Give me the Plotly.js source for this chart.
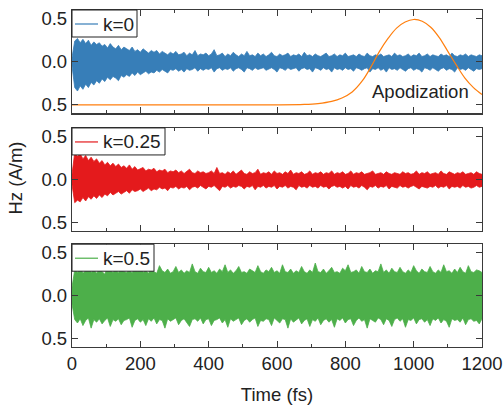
<!DOCTYPE html>
<html>
<head>
<meta charset="utf-8">
<script src="https://cdn.plot.ly/plotly-3.0.1.min.js"></script>
<style>html,body{margin:0;padding:0;background:#fff;}#chart{width:504px;height:407px;}</style>
</head>
<body>
<div id="chart"></div>
<script>
// Sampling grid of the field traces (fs)
const t0 = 0;
const dt = 8;

// Upper / lower edges of the oscillating Hz field
// k = 0 (blue)
const upperK0 = [
  0.05, 0.24, 0.27, 0.22, 0.26, 0.21, 0.25, 0.19, 0.23, 0.20,
  0.22, 0.18, 0.20, 0.16, 0.21, 0.17, 0.15, 0.19, 0.14, 0.17,
  0.15, 0.13, 0.17, 0.12, 0.14, 0.11, 0.15, 0.12, 0.10, 0.13,
  0.11, 0.13, 0.09, 0.12, 0.10, 0.08, 0.11, 0.09, 0.12, 0.08,
  0.09, 0.11, 0.07, 0.10, 0.08, 0.13, 0.07, 0.09, 0.08, 0.10,
  0.07, 0.09, 0.14, 0.07, 0.08, 0.10, 0.06, 0.09, 0.07, 0.11,
  0.08, 0.06, 0.09, 0.07, 0.12, 0.07, 0.08, 0.06, 0.10, 0.07,
  0.09, 0.06, 0.08, 0.11, 0.07, 0.06, 0.09, 0.07, 0.08, 0.10,
  0.06, 0.08, 0.07, 0.09, 0.06, 0.11, 0.07, 0.08, 0.06, 0.09,
  0.07, 0.06, 0.08, 0.10, 0.06, 0.07, 0.09, 0.06, 0.08, 0.07,
  0.10, 0.06, 0.07, 0.08, 0.06, 0.09, 0.07, 0.06, 0.10, 0.07,
  0.06, 0.08, 0.07, 0.09, 0.06, 0.07, 0.08, 0.06, 0.10, 0.07,
  0.08, 0.06, 0.07, 0.09, 0.06, 0.08, 0.07, 0.10, 0.06, 0.07,
  0.09, 0.06, 0.08, 0.07, 0.06, 0.09, 0.07, 0.08, 0.06, 0.10,
  0.07, 0.06, 0.08, 0.07, 0.09, 0.06, 0.08, 0.07, 0.06, 0.08, 0.07
];
const lowerK0 = [
  -0.05, -0.30, -0.34, -0.28, -0.32, -0.26, -0.30, -0.24, -0.27, -0.22,
  -0.25, -0.20, -0.23, -0.18, -0.21, -0.17, -0.19, -0.22, -0.16, -0.18,
  -0.15, -0.17, -0.13, -0.16, -0.12, -0.15, -0.13, -0.11, -0.14, -0.12,
  -0.13, -0.10, -0.12, -0.09, -0.11, -0.13, -0.09, -0.10, -0.08, -0.11,
  -0.09, -0.12, -0.08, -0.10, -0.09, -0.07, -0.11, -0.08, -0.10, -0.08,
  -0.09, -0.07, -0.12, -0.08, -0.07, -0.10, -0.08, -0.09, -0.07, -0.11,
  -0.08, -0.07, -0.09, -0.12, -0.07, -0.08, -0.10, -0.07, -0.09, -0.08,
  -0.07, -0.10, -0.08, -0.07, -0.09, -0.12, -0.07, -0.08, -0.10, -0.07,
  -0.09, -0.08, -0.07, -0.11, -0.08, -0.07, -0.09, -0.08, -0.12, -0.07,
  -0.08, -0.10, -0.07, -0.09, -0.08, -0.12, -0.07, -0.09, -0.08, -0.10,
  -0.07, -0.09, -0.08, -0.11, -0.07, -0.08, -0.10, -0.08, -0.07, -0.12,
  -0.08, -0.09, -0.07, -0.10, -0.08, -0.12, -0.07, -0.09, -0.08, -0.10,
  -0.07, -0.09, -0.11, -0.08, -0.07, -0.10, -0.08, -0.09, -0.12, -0.07,
  -0.08, -0.10, -0.07, -0.09, -0.11, -0.08, -0.07, -0.10, -0.08, -0.09,
  -0.12, -0.07, -0.09, -0.08, -0.10, -0.07, -0.09, -0.11, -0.08, -0.09, -0.08
];

// k = 0.25 (red)
const upperK025 = [
  0.06, 0.31, 0.27, 0.30, 0.24, 0.28, 0.22, 0.26, 0.21, 0.24,
  0.19, 0.22, 0.17, 0.20, 0.16, 0.19, 0.15, 0.18, 0.14, 0.16,
  0.13, 0.17, 0.12, 0.15, 0.11, 0.13, 0.14, 0.10, 0.12, 0.11,
  0.13, 0.09, 0.11, 0.10, 0.12, 0.08, 0.10, 0.09, 0.11, 0.08,
  0.10, 0.07, 0.09, 0.12, 0.08, 0.07, 0.10, 0.08, 0.09, 0.07,
  0.08, 0.10, 0.07, 0.14, 0.07, 0.08, 0.06, 0.09, 0.07, 0.10,
  0.06, 0.08, 0.11, 0.07, 0.06, 0.09, 0.07, 0.08, 0.12, 0.06,
  0.08, 0.07, 0.09, 0.06, 0.10, 0.07, 0.08, 0.06, 0.09, 0.07,
  0.11, 0.06, 0.08, 0.07, 0.09, 0.06, 0.07, 0.10, 0.06, 0.08,
  0.07, 0.09, 0.06, 0.08, 0.07, 0.10, 0.06, 0.08, 0.07, 0.09,
  0.06, 0.07, 0.10, 0.06, 0.08, 0.07, 0.09, 0.06, 0.07, 0.08,
  0.10, 0.06, 0.07, 0.08, 0.06, 0.09, 0.07, 0.06, 0.08, 0.07,
  0.06, 0.09, 0.07, 0.08, 0.06, 0.07, 0.10, 0.06, 0.08, 0.07,
  0.09, 0.06, 0.07, 0.08, 0.06, 0.10, 0.07, 0.06, 0.09, 0.07,
  0.06, 0.08, 0.07, 0.09, 0.06, 0.07, 0.08, 0.06, 0.09, 0.07, 0.06
];
const lowerK025 = [
  -0.06, -0.27, -0.24, -0.26, -0.21, -0.25, -0.20, -0.23, -0.19, -0.22,
  -0.18, -0.21, -0.17, -0.19, -0.15, -0.18, -0.16, -0.14, -0.17, -0.15,
  -0.13, -0.16, -0.12, -0.14, -0.13, -0.11, -0.14, -0.12, -0.10, -0.13,
  -0.11, -0.12, -0.09, -0.11, -0.10, -0.13, -0.09, -0.10, -0.08, -0.11,
  -0.09, -0.10, -0.08, -0.12, -0.09, -0.08, -0.10, -0.07, -0.09, -0.11,
  -0.08, -0.09, -0.07, -0.10, -0.13, -0.08, -0.09, -0.07, -0.10, -0.08,
  -0.09, -0.07, -0.08, -0.11, -0.08, -0.09, -0.07, -0.12, -0.08, -0.09,
  -0.07, -0.10, -0.08, -0.09, -0.07, -0.11, -0.08, -0.09, -0.07, -0.10,
  -0.08, -0.09, -0.12, -0.07, -0.09, -0.08, -0.10, -0.07, -0.09, -0.08,
  -0.10, -0.07, -0.09, -0.08, -0.11, -0.08, -0.07, -0.09, -0.08, -0.10,
  -0.08, -0.11, -0.07, -0.09, -0.08, -0.10, -0.07, -0.09, -0.12, -0.08,
  -0.09, -0.07, -0.10, -0.08, -0.09, -0.07, -0.11, -0.08, -0.09, -0.10,
  -0.07, -0.09, -0.08, -0.10, -0.08, -0.07, -0.09, -0.11, -0.08, -0.09,
  -0.10, -0.08, -0.09, -0.07, -0.10, -0.08, -0.09, -0.07, -0.11, -0.08,
  -0.09, -0.08, -0.10, -0.07, -0.09, -0.08, -0.10, -0.09, -0.07, -0.09, -0.08
];

// k = 0.5 (green)
const upperK05 = [
  0.10, 0.30, 0.27, 0.33, 0.26, 0.29, 0.35, 0.27, 0.30, 0.26,
  0.31, 0.28, 0.25, 0.34, 0.29, 0.27, 0.31, 0.26, 0.36, 0.28,
  0.27, 0.30, 0.26, 0.33, 0.28, 0.37, 0.27, 0.29, 0.26, 0.32,
  0.28, 0.26, 0.35, 0.29, 0.27, 0.31, 0.26, 0.28, 0.34, 0.27,
  0.30, 0.26, 0.29, 0.27, 0.37, 0.28, 0.26, 0.32, 0.28, 0.27,
  0.33, 0.27, 0.29, 0.26, 0.31, 0.28, 0.36, 0.27, 0.30, 0.26,
  0.29, 0.34, 0.27, 0.28, 0.26, 0.31, 0.29, 0.27, 0.35, 0.28,
  0.26, 0.30, 0.28, 0.33, 0.27, 0.29, 0.26, 0.36, 0.28, 0.27,
  0.31, 0.26, 0.29, 0.27, 0.34, 0.28, 0.26, 0.30, 0.27, 0.38,
  0.28, 0.27, 0.31, 0.26, 0.29, 0.33, 0.27, 0.28, 0.26, 0.32,
  0.29, 0.36, 0.27, 0.28, 0.30, 0.26, 0.34, 0.28, 0.27, 0.31,
  0.26, 0.29, 0.28, 0.37, 0.27, 0.30, 0.26, 0.32, 0.28, 0.27,
  0.33, 0.28, 0.26, 0.30, 0.27, 0.35, 0.29, 0.26, 0.31, 0.28,
  0.27, 0.34, 0.28, 0.26, 0.30, 0.27, 0.36, 0.28, 0.29, 0.26,
  0.31, 0.27, 0.33, 0.28, 0.26, 0.35, 0.28, 0.27, 0.30, 0.29, 0.27
];
const lowerK05 = [
  -0.10, -0.28, -0.32, -0.27, -0.35, -0.29, -0.26, -0.38, -0.28, -0.31,
  -0.27, -0.33, -0.29, -0.26, -0.36, -0.28, -0.30, -0.27, -0.34, -0.29,
  -0.28, -0.26, -0.37, -0.29, -0.27, -0.31, -0.28, -0.35, -0.27, -0.30,
  -0.26, -0.33, -0.28, -0.29, -0.38, -0.27, -0.30, -0.28, -0.26, -0.34,
  -0.29, -0.27, -0.31, -0.36, -0.28, -0.27, -0.30, -0.26, -0.33, -0.28,
  -0.27, -0.35, -0.29, -0.28, -0.26, -0.32, -0.28, -0.37, -0.27, -0.30,
  -0.28, -0.26, -0.34, -0.29, -0.27, -0.31, -0.28, -0.26, -0.36, -0.29,
  -0.30, -0.27, -0.28, -0.35, -0.26, -0.29, -0.32, -0.27, -0.28, -0.38,
  -0.27, -0.31, -0.28, -0.26, -0.33, -0.29, -0.27, -0.36, -0.28, -0.30,
  -0.26, -0.34, -0.29, -0.27, -0.31, -0.28, -0.37, -0.27, -0.29, -0.26,
  -0.32, -0.28, -0.27, -0.35, -0.29, -0.26, -0.30, -0.28, -0.38, -0.27,
  -0.29, -0.31, -0.26, -0.28, -0.34, -0.27, -0.29, -0.36, -0.28, -0.26,
  -0.30, -0.27, -0.37, -0.28, -0.29, -0.26, -0.33, -0.28, -0.27, -0.31,
  -0.28, -0.35, -0.27, -0.29, -0.26, -0.32, -0.28, -0.30, -0.37, -0.27,
  -0.29, -0.28, -0.31, -0.26, -0.34, -0.28, -0.27, -0.30, -0.29, -0.33, -0.27
];

// Apodization window (orange) on the top panel
const apodT = [0, 600, 680, 720, 760, 790, 820, 850, 875, 900, 925, 950, 975, 1000, 1025, 1050, 1075, 1100, 1125, 1150, 1175, 1200];
const apodY = [-0.5, -0.5, -0.495, -0.485, -0.46, -0.42, -0.35, -0.22, -0.06, 0.12, 0.27, 0.39, 0.46, 0.49, 0.47, 0.40, 0.28, 0.12, -0.04, -0.19, -0.30, -0.38];

const seriesNames = ['k=0', 'k=0.25', 'k=0.5'];
const seriesColors = ['#377eb8', '#e41a1c', '#4daf4a'];
const yTickVals = [-0.5, 0, 0.5];
const yTickText = ['0.5', '0.0', '0.5'];
const xTickVals = [0, 200, 400, 600, 800, 1000, 1200];

const FONT = '"Liberation Sans", Arial, sans-serif';
const FS = 18.5;
const AX = '#3a3a3a';
const TXT = '#222';

function band(lower, upper, i, xa, ya) {
  const base = {type: 'scatter', mode: 'lines', x0: t0, dx: dt, xaxis: xa, yaxis: ya,
    name: seriesNames[i], showlegend: false, hoverinfo: 'skip',
    line: {color: seriesColors[i], width: 0.8}};
  return [
    Object.assign({}, base, {y: lower}),
    Object.assign({}, base, {y: upper, fill: 'tonexty', fillcolor: seriesColors[i]})
  ];
}

const traces = [].concat(
  band(lowerK0, upperK0, 0, 'x', 'y'),
  [{type: 'scatter', mode: 'lines', x: apodT, y: apodY, xaxis: 'x', yaxis: 'y',
    line: {color: '#ff7f0e', width: 1.2, shape: 'spline'}, showlegend: false, name: 'Apodization'}],
  band(lowerK025, upperK025, 1, 'x2', 'y2'),
  band(lowerK05, upperK05, 2, 'x3', 'y3')
);

function xax(anchor, labels) {
  return {
    anchor: anchor, domain: [0, 1], range: [0, 1200],
    tickmode: 'array', tickvals: xTickVals,
    showticklabels: labels,
    ticks: 'inside', ticklen: 6, tickwidth: 1, tickcolor: AX,
    minor: {ticks: 'inside', ticklen: 3, dtick: 100, tick0: 0, tickcolor: AX},
    showline: true, linecolor: AX, linewidth: 1.2, mirror: 'ticks',
    showgrid: false, zeroline: false,
    tickfont: {family: FONT, size: FS, color: TXT}
  };
}
function yax(anchor, dom) {
  return {
    anchor: anchor, domain: dom, range: [-0.6, 0.6],
    tickmode: 'array', tickvals: yTickVals, ticktext: yTickText,
    ticks: 'inside', ticklen: 6, tickwidth: 1, tickcolor: AX,
    showline: true, linecolor: AX, linewidth: 1.2, mirror: 'ticks',
    showgrid: false, zeroline: false,
    tickfont: {family: FONT, size: FS, color: TXT}
  };
}

// Legend boxes (one per panel, top-left inside the frame)
const legendYRefs = ['y domain', 'y2 domain', 'y3 domain'];
const legendBoxW = [65, 93, 82];
const shapes = [];
const annotations = [];
for (let i = 0; i < 3; i++) {
  shapes.push({type: 'rect', xref: 'paper', xsizemode: 'pixel', xanchor: 0, x0: 0, x1: legendBoxW[i],
    yref: legendYRefs[i], ysizemode: 'pixel', yanchor: 1, y0: 0, y1: -27,
    line: {color: TXT, width: 1}, fillcolor: '#fff', layer: 'above'});
  shapes.push({type: 'line', xref: 'paper', xsizemode: 'pixel', xanchor: 0, x0: 3, x1: 26,
    yref: legendYRefs[i], ysizemode: 'pixel', yanchor: 1, y0: -14, y1: -14,
    line: {color: seriesColors[i], width: 1.2}, layer: 'above'});
  annotations.push({text: seriesNames[i], xref: 'paper', x: 0, xshift: 29, xanchor: 'left',
    yref: legendYRefs[i], y: 1, yshift: -14, yanchor: 'middle', showarrow: false,
    font: {family: FONT, size: 19, color: TXT}});
}
annotations.push({text: 'Apodization', xref: 'x', yref: 'y', x: 1019, y: -0.35, showarrow: false,
  xanchor: 'center', yanchor: 'middle', font: {family: FONT, size: FS, color: TXT}});
annotations.push({text: 'Hz (A/m)', xref: 'paper', yref: 'paper', x: 0, y: 0.5, xshift: -57,
  textangle: -90, showarrow: false, xanchor: 'center', yanchor: 'middle',
  font: {family: FONT, size: FS, color: TXT}});

const x3 = xax('y3', true);
x3.title = {text: 'Time (fs)', font: {family: FONT, size: FS, color: TXT}, standoff: 14};

const layout = {
  width: 504, height: 407,
  margin: {l: 72, r: 22, t: 10, b: 60},
  paper_bgcolor: '#fff', plot_bgcolor: '#fff',
  font: {family: FONT, size: FS, color: TXT},
  showlegend: false,
  xaxis: xax('y', false),
  xaxis2: xax('y2', false),
  xaxis3: x3,
  yaxis: yax('x', [0.693, 1]),
  yaxis2: yax('x2', [0.344, 0.650]),
  yaxis3: yax('x3', [0, 0.305]),
  shapes: shapes,
  annotations: annotations
};

Plotly.newPlot('chart', traces, layout, {displayModeBar: false, staticPlot: true});
</script>
</body>
</html>
